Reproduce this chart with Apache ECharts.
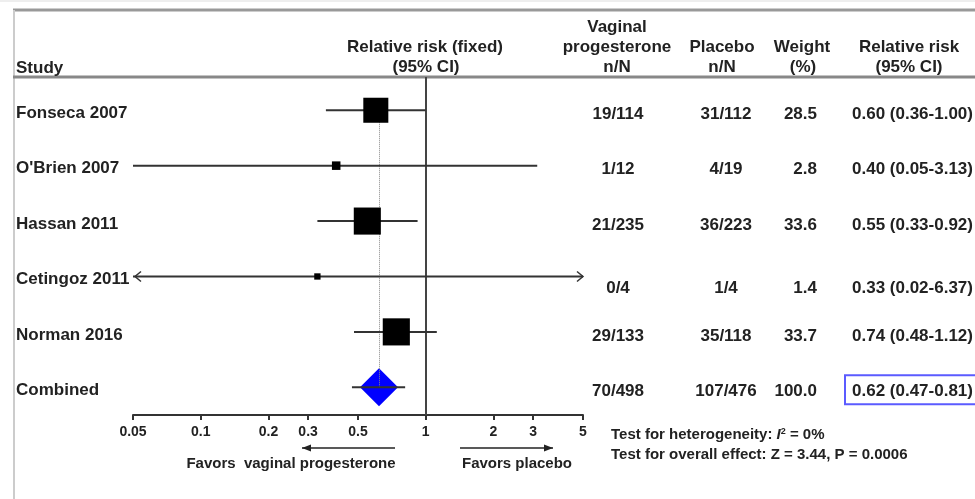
<!DOCTYPE html>
<html>
<head>
<meta charset="utf-8">
<script src="https://cdn.jsdelivr.net/npm/echarts@6/dist/echarts.min.js"></script>
<style>
html, body { margin: 0; padding: 0; background: #fff; }
#chart { width: 975px; height: 499px; }
</style>
</head>
<body>
<div id="chart"></div>
<script>
// forest plot data
const studies = ['Fonseca 2007', "O'Brien 2007", 'Hassan 2011', 'Cetingoz 2011', 'Norman 2016', 'Combined'];
const rr = [0.60, 0.40, 0.55, 0.33, 0.74, 0.62];
const ciLow = [0.36, 0.05, 0.33, 0.02, 0.48, 0.47];
const ciHigh = [1.00, 3.13, 0.92, 6.37, 1.12, 0.81];
const vaginalN = ['19/114', '1/12', '21/235', '0/4', '29/133', '70/498'];
const placeboN = ['31/112', '4/19', '36/223', '1/4', '35/118', '107/476'];
const weights = [28.5, 2.8, 33.6, 1.4, 33.7, 100.0];
const rrLabels = ['0.60 (0.36-1.00)', '0.40 (0.05-3.13)', '0.55 (0.33-0.92)', '0.33 (0.02-6.37)', '0.74 (0.48-1.12)', '0.62 (0.47-0.81)'];
const tickVals = [0.05, 0.1, 0.2, 0.3, 0.5, 1, 2, 3, 5];
const tickLabels = ['0.05', '0.1', '0.2', '0.3', '0.5', '1', '2', '3', '5'];

const X_MIN = 0.05, X_MAX = 5;
const pooled = studies.length - 1;
const FONT = '"Liberation Sans", Arial, sans-serif';
const TXT = '#222';

const chart = echarts.init(document.getElementById('chart'));

function txt(x, y, text, align, size) {
    return {
        type: 'text',
        x: x, y: y,
        style: {
            text: text, fill: TXT, font: 'bold ' + (size || 17) + 'px ' + FONT,
            align: align || 'left', verticalAlign: 'middle'
        }
    };
}

function arrowLine(x1, x2, y) {
    // line with a small filled head at x2
    const dir = x2 > x1 ? 1 : -1;
    return [
        { type: 'line', shape: { x1: x1, y1: y, x2: x2, y2: y }, style: { stroke: '#222', lineWidth: 1.5 } },
        { type: 'polygon', shape: { points: [[x2, y], [x2 - dir * 9, y - 3.5], [x2 - dir * 9, y + 3.5]] }, style: { fill: '#222' } }
    ];
}

const option = {
    backgroundColor: '#fff',
    animation: false,
    grid: { left: 133, top: 77, width: 450, height: 338 },
    xAxis: {
        type: 'log',
        logBase: 10,
        min: X_MIN,
        max: X_MAX,
        axisLine: { show: true, onZero: false, lineStyle: { color: '#333', width: 2 } },
        axisTick: { show: true, customValues: tickVals, length: 5, lineStyle: { color: '#333', width: 2 } },
        axisLabel: {
            show: true,
            customValues: tickVals,
            margin: 10,
            color: TXT,
            fontFamily: FONT,
            fontWeight: 'bold',
            fontSize: 14,
            formatter(v) {
                let best = 0;
                tickVals.forEach((t, i) => {
                    if (Math.abs(t - v) < Math.abs(tickVals[best] - v)) best = i;
                });
                return tickLabels[best];
            }
        },
        splitLine: { show: false }
    },
    yAxis: {
        type: 'value',
        inverse: true,
        min: -0.6,
        max: 5.5,
        show: false
    },
    series: [
        {
            // pooled diamond
            type: 'scatter',
            z: 1,
            symbol: 'diamond',
            symbolSize: [38, 38],
            itemStyle: { color: '#0000ff', opacity: 1 },
            data: [[rr[pooled], pooled]],
            markLine: {
                silent: true,
                symbol: 'none',
                label: { show: false },
                data: [
                    [
                        { coord: [rr[pooled], 0], lineStyle: { color: '#888', width: 1, type: 'dotted' } },
                        { coord: [rr[pooled], pooled] }
                    ],
                    { xAxis: 1, lineStyle: { color: '#444', width: 2, type: 'solid' } }
                ]
            }
        },
        {
            // confidence intervals
            type: 'custom',
            z: 6,
            clip: false,
            data: studies.map((s, i) => [ciLow[i], ciHigh[i], i]),
            encode: { x: [0, 1], y: 2 },
            renderItem(params, api) {
                const lo = api.value(0), hi = api.value(1), row = api.value(2);
                const p1 = api.coord([Math.max(lo, X_MIN), row]);
                const p2 = api.coord([Math.min(hi, X_MAX), row]);
                const stroke = { stroke: '#333', lineWidth: 2 };
                const children = [
                    { type: 'line', shape: { x1: p1[0], y1: p1[1], x2: p2[0], y2: p2[1] }, style: stroke }
                ];
                if (lo < X_MIN) {
                    children.push({ type: 'polyline', shape: { points: [[p1[0] + 8, p1[1] - 5], [p1[0] + 2, p1[1]], [p1[0] + 8, p1[1] + 5]] }, style: { stroke: '#333', lineWidth: 1.5, fill: null } });
                }
                if (hi > X_MAX) {
                    children.push({ type: 'polyline', shape: { points: [[p2[0] - 6, p2[1] - 5], [p2[0], p2[1]], [p2[0] - 6, p2[1] + 5]] }, style: { stroke: '#333', lineWidth: 1.5, fill: null } });
                }
                return { type: 'group', children: children };
            }
        },
        {
            // study squares, area by weight
            type: 'scatter',
            z: 10,
            symbol: 'rect',
            symbolSize(d) {
                return 4.5 * Math.sqrt(d[2]) + 1;
            },
            itemStyle: { color: '#000', opacity: 1 },
            data: rr.slice(0, pooled).map((v, i) => [v, i, weights[i]])
        },
        {
            // table columns
            type: 'custom',
            z: 11,
            clip: false,
            silent: true,
            data: studies.map((s, i) => [1, i]),
            encode: { x: 0, y: 1 },
            renderItem(params, api) {
                const i = api.value(1);
                const y = api.coord([1, i])[1];
                const ty = y + (i === 3 ? 12 : 4);
                const children = [
                    txt(16, y + 3, studies[i]),
                    txt(618, ty, vaginalN[i], 'center'),
                    txt(726, ty, placeboN[i], 'center'),
                    txt(817, ty, weights[i].toFixed(1), 'right'),
                    txt(852, ty, rrLabels[i])
                ];
                if (i === pooled) {
                    children.push({
                        type: 'rect',
                        shape: { x: 845, y: y - 12, width: 140, height: 29 },
                        style: { fill: null, stroke: '#5b5bff', lineWidth: 2 }
                    });
                }
                return { type: 'group', children: children };
            }
        }
    ],
    graphic: [
        { type: 'line', shape: { x1: 0, y1: 1, x2: 975, y2: 1 }, style: { stroke: '#eee', lineWidth: 2 } },
        { type: 'line', shape: { x1: 13, y1: 10, x2: 975, y2: 10 }, style: { stroke: '#999', lineWidth: 3 } },
        { type: 'line', shape: { x1: 14, y1: 10, x2: 14, y2: 499 }, style: { stroke: '#ccc', lineWidth: 2 } },
        { type: 'line', shape: { x1: 13, y1: 77, x2: 975, y2: 77 }, style: { stroke: '#888', lineWidth: 3 } },
        txt(16, 68, 'Study'),
        txt(425, 47, 'Relative risk (fixed)', 'center'),
        txt(426, 67, '(95% CI)', 'center'),
        txt(617, 27, 'Vaginal', 'center'),
        txt(617, 47, 'progesterone', 'center'),
        txt(617, 67, 'n/N', 'center'),
        txt(722, 47, 'Placebo', 'center'),
        txt(722, 67, 'n/N', 'center'),
        txt(802, 47, 'Weight', 'center'),
        txt(803, 67, '(%)', 'center'),
        txt(909, 47, 'Relative risk', 'center'),
        txt(909, 67, '(95% CI)', 'center'),
        ...arrowLine(395, 302, 448),
        ...arrowLine(460, 553, 448),
        txt(291, 464, 'Favors  vaginal progesterone', 'center', 15),
        txt(517, 464, 'Favors placebo', 'center', 15),
        {
            type: 'text',
            x: 611, y: 435,
            style: {
                text: 'Test for heterogeneity: {i|I}{s|2} = 0%',
                fill: TXT, font: 'bold 15px ' + FONT, verticalAlign: 'middle',
                rich: {
                    i: { fontStyle: 'italic', fontWeight: 'bold', fontSize: 15, fontFamily: FONT, fill: TXT },
                    s: { fontSize: 9, fontWeight: 'bold', fontFamily: FONT, fill: TXT, verticalAlign: 'top', padding: [0, 0, 6, 0] }
                }
            }
        },
        txt(611, 455, 'Test for overall effect: Z = 3.44, P = 0.0006', 'left', 15)
    ]
};

chart.setOption(option);
</script>
</body>
</html>
